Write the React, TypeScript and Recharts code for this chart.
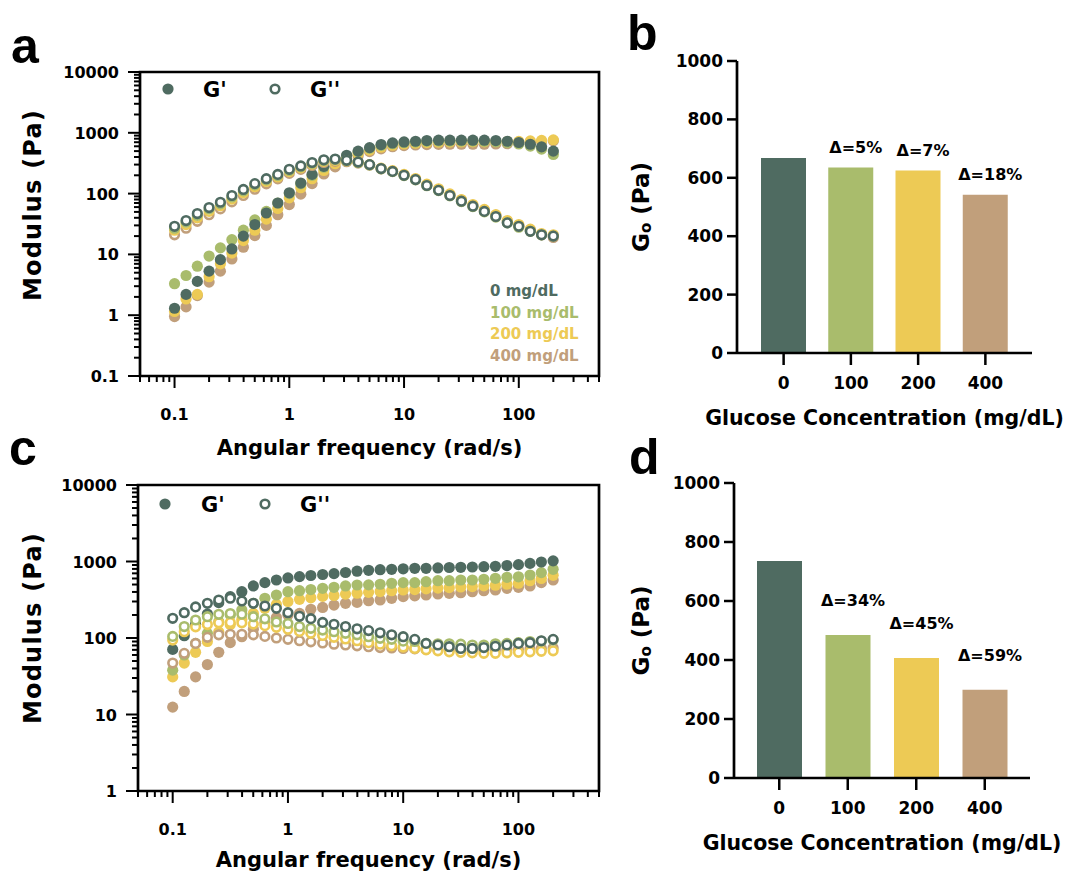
import React from 'react';
import {
  Bar,
  BarChart,
  Cell,
  LabelList,
  ReferenceArea,
  Scatter,
  ScatterChart,
  XAxis,
  YAxis,
} from 'recharts';

const FONT = '"DejaVu Sans", Verdana, sans-serif';
const LETTER_FONT = '"Liberation Sans", Arial, sans-serif';
const INK = '#000';

// angular frequency sweep (rad/s), shared by panels a and c
const FREQ = [
  0.1, 0.126, 0.158, 0.2, 0.251, 0.316, 0.398, 0.501, 0.631, 0.794,
  1, 1.26, 1.58, 2, 2.51, 3.16, 3.98, 5.01, 6.31, 7.94,
  10, 12.6, 15.8, 20, 25.1, 31.6, 39.8, 50.1, 63.1, 79.4,
  100, 126, 158, 200,
];

const CONC = ['0', '100', '200', '400'];
const CONC_LABELS = ['0 mg/dL', '100 mg/dL', '200 mg/dL', '400 mg/dL'];
const COLORS = ['#4f6b61', '#a9bc6c', '#edca55', '#c19f7b'];

// panel a: G' (storage) per glucose level
const A_STORAGE_0 = [1.3, 2.2, 3.6, 5.3, 8.2, 12.3, 20, 31, 48, 70, 103, 149, 207, 281, 363, 427, 500, 571, 641, 681, 707, 726, 746, 755, 755, 755, 755, 755, 746, 726, 692, 648, 587, 500];
const A_STORAGE_100 = [3.3, 4.5, 6.4, 9.4, 12.8, 17.5, 25, 37, 51, 70, 100, 145, 200, 272, 352, 415, 485, 555, 620, 660, 688, 705, 722, 730, 732, 732, 730, 725, 712, 690, 655, 605, 540, 440];
const A_STORAGE_200 = [1.15, 1.85, 2.2, 4.3, 7.0, 10.5, 16.9, 25, 38, 57, 85, 125, 176, 240, 310, 380, 450, 520, 580, 625, 655, 675, 690, 700, 705, 708, 710, 710, 712, 715, 720, 735, 750, 765];
const A_STORAGE_400 = [0.95, 1.37, 2.1, 3.5, 5.3, 8.4, 13.1, 20.4, 30, 45, 66, 98, 146, 210, 275, 345, 420, 490, 545, 590, 615, 630, 640, 645, 650, 650, 650, 650, 655, 660, 670, 690, 715, 740];

// panel a: G'' (loss)
const A_LOSS_0 = [29, 36, 47, 59, 72, 93, 117, 146, 176, 207, 251, 285, 325, 360, 370, 353, 330, 300, 258, 232, 200, 170, 136, 113, 93, 75, 62, 51, 42, 33, 29, 24, 21, 20];
const A_LOSS_100 = [27, 34, 44, 56, 68, 88, 111, 139, 168, 198, 240, 275, 315, 350, 362, 347, 325, 296, 256, 230, 198, 168, 135, 112, 92, 74, 61, 50, 41, 33, 28, 24, 21, 20];
const A_LOSS_200 = [25, 31, 40, 51, 63, 81, 103, 130, 158, 188, 230, 265, 305, 340, 352, 345, 325, 300, 262, 238, 207, 177, 143, 120, 99, 80, 66, 55, 45, 36, 31, 26, 22, 21];
const A_LOSS_400 = [21, 27, 35, 45, 56, 73, 93, 118, 145, 175, 215, 250, 290, 325, 340, 335, 318, 294, 256, 232, 202, 172, 139, 116, 96, 78, 64, 53, 44, 35, 30, 25, 21, 19];

// panel c: G'
const C_STORAGE_0 = [71, 107, 151, 206, 290, 347, 403, 479, 529, 573, 610, 635, 656, 676, 694, 718, 747, 767, 782, 790, 803, 815, 815, 823, 835, 840, 848, 856, 865, 885, 910, 945, 985, 1020];
const C_STORAGE_100 = [38, 60, 85, 115, 163, 200, 232, 284, 331, 365, 403, 415, 430, 446, 460, 479, 493, 495, 504, 519, 529, 530, 545, 561, 561, 573, 573, 585, 603, 621, 631, 666, 715, 790];
const C_STORAGE_200 = [31, 47, 65, 90, 120, 150, 175, 210, 245, 275, 300, 320, 335, 350, 360, 375, 385, 395, 405, 415, 425, 430, 440, 450, 455, 465, 470, 480, 490, 505, 520, 560, 600, 660];
const C_STORAGE_400 = [12.5, 20, 31, 45, 65, 87, 104, 130, 160, 185, 200, 210, 237, 251, 269, 284, 292, 307, 314, 330, 347, 355, 365, 376, 384, 391, 403, 415, 424, 446, 460, 479, 529, 573];

// panel c: G''
const C_LOSS_0 = [181, 214, 255, 284, 314, 331, 305, 284, 262, 244, 214, 192, 179, 160, 151, 141, 132, 125, 117, 110, 104, 96, 85, 81, 77, 73, 73, 75, 78, 81, 85, 87, 92, 96];
const C_LOSS_100 = [105, 141, 172, 190, 204, 209, 205, 190, 178, 162, 155, 141, 134, 127, 121, 115, 110, 104, 99, 96, 91, 90, 85, 84, 84, 83, 81, 81, 84, 85, 87, 90, 91, 94];
const C_LOSS_200 = [94, 121, 140, 150, 158, 160, 158, 152, 145, 138, 130, 122, 115, 108, 102, 97, 92, 87, 83, 79, 76, 73, 70, 68, 66, 65, 64, 63, 63, 64, 65, 66, 67, 68];
const C_LOSS_400 = [47, 63, 85, 102, 110, 112, 112, 110, 105, 100, 96, 92, 89, 86, 83, 81, 79, 77, 75, 74, 73, 72, 71, 70, 70, 70, 70, 70, 70, 70, 71, 72, 73, 74];

// panels b and d: plateau modulus G0 (Pa) and the drop vs 0 mg/dL
const B_G0 = [668, 635, 625, 542];
const B_DELTA = ['', 'Δ=5%', 'Δ=7%', 'Δ=18%'];
const D_G0 = [736, 485, 407, 299];
const D_DELTA = ['', 'Δ=34%', 'Δ=45%', 'Δ=59%'];

const BAR_TICKS = [0, 200, 400, 600, 800, 1000];

/** 1..9 × 10^e between lo and hi – majors get a label, the rest are minor ticks. */
function logTicks(lo: number, hi: number): number[] {
  const out: number[] = [];
  for (let e = -3; e <= 5; e++) {
    for (let m = 1; m <= 9; m++) {
      const v = +(m * 10 ** e).toPrecision(3);
      if (v >= lo * 0.999 && v <= hi * 1.001) out.push(v);
    }
  }
  return out;
}
const isDecade = (v: number) => Math.abs(Math.log10(v) - Math.round(Math.log10(v))) < 1e-6;
const fmtLog = (v: number) => (v >= 1 ? String(Math.round(v)) : String(v));

const X_DOMAIN: [number, number] = [0.05, 500];
const X_TICKS = logTicks(0.05, 500);

const textStyle = { fontFamily: FONT, fontWeight: 700, fill: INK } as const;

function LogTickX(props: any) {
  const { x, y, payload } = props;
  const major = isDecade(payload.value);
  return (
    <g>
      <line x1={x} x2={x} y1={y} y2={y + (major ? 12 : 6)} stroke={INK} strokeWidth={2} />
      {major && (
        <text x={x} y={y + 44} textAnchor="middle" fontSize={16} {...textStyle}>
          {fmtLog(payload.value)}
        </text>
      )}
    </g>
  );
}

function LogTickY(props: any) {
  const { x, y, payload } = props;
  const major = isDecade(payload.value);
  return (
    <g>
      <line x1={x} x2={x - (major ? 12 : 6)} y1={y} y2={y} stroke={INK} strokeWidth={2} />
      {major && (
        <text x={x - 21} y={y + 6} textAnchor="end" fontSize={16} {...textStyle}>
          {fmtLog(payload.value)}
        </text>
      )}
    </g>
  );
}

const filledDot = (color: string) => (p: any) => <circle cx={p.cx} cy={p.cy} r={5.6} fill={color} />;
const openDot = (color: string) => (p: any) => (
  <circle cx={p.cx} cy={p.cy} r={4.3} fill="#fff" stroke={color} strokeWidth={2.6} />
);

const toPoints = (vals: number[]) => FREQ.map((f, i) => ({ x: f, y: vals[i] }));
// darkest (0 mg/dL) ends up on top
const DRAW_ORDER = [3, 2, 1, 0];

interface RheoProps {
  width: number;
  height: number;
  margin: { top: number; right: number; bottom: number; left: number };
  yAxisWidth: number;
  yDomain: [number, number];
  storage: number[][];
  loss: number[][];
  titleLift: number;
  xTitleGap: number;
}

function RheologyChart(p: RheoProps) {
  const yTicks = logTicks(p.yDomain[0], p.yDomain[1]);
  return (
    <ScatterChart width={p.width} height={p.height} margin={p.margin}>
      <ReferenceArea
        x1={X_DOMAIN[0]}
        x2={X_DOMAIN[1]}
        y1={p.yDomain[0]}
        y2={p.yDomain[1]}
        fill="none"
        stroke={INK}
        strokeWidth={2.7}
        ifOverflow="visible"
      />
      <XAxis
        type="number"
        dataKey="x"
        scale="log"
        domain={X_DOMAIN}
        allowDataOverflow
        ticks={X_TICKS}
        interval={0}
        tick={<LogTickX />}
        tickLine={false}
        tickSize={0}
        tickMargin={0}
        axisLine={false}
        height={60}
        label={(lp: any) => {
          const vb = lp.viewBox;
          return (
            <text x={vb.x + vb.width / 2} y={vb.y + p.xTitleGap} textAnchor="middle" fontSize={21} {...textStyle}>
              Angular frequency (rad/s)
            </text>
          );
        }}
      />
      <YAxis
        type="number"
        dataKey="y"
        scale="log"
        domain={p.yDomain}
        allowDataOverflow
        ticks={yTicks}
        interval={0}
        tick={<LogTickY />}
        tickLine={false}
        tickSize={0}
        tickMargin={0}
        axisLine={false}
        width={p.yAxisWidth}
        label={(lp: any) => {
          const vb = lp.viewBox;
          const cx = 33;
          const cy = vb.y + vb.height / 2 - p.titleLift;
          return (
            <text
              x={cx}
              y={cy}
              transform={`rotate(-90, ${cx}, ${cy})`}
              textAnchor="middle"
              dominantBaseline="central"
              fontSize={24}
              letterSpacing={1.2}
              {...textStyle}
            >
              Modulus (Pa)
            </text>
          );
        }}
      />
      {DRAW_ORDER.map((i) => (
        <Scatter
          key={`gp${i}`}
          data={toPoints(p.storage[i])}
          shape={filledDot(COLORS[i])}
          isAnimationActive={false}
        />
      ))}
      {DRAW_ORDER.map((i) => (
        <Scatter
          key={`gpp${i}`}
          data={toPoints(p.loss[i])}
          shape={openDot(COLORS[i])}
          isAnimationActive={false}
        />
      ))}
    </ScatterChart>
  );
}

function BarTickY(props: any) {
  const { x, y, payload } = props;
  return (
    <g>
      <line x1={x} x2={x - 10} y1={y} y2={y} stroke={INK} strokeWidth={2.5} />
      <text x={x - 14} y={y + 6} textAnchor="end" fontSize={17} {...textStyle}>
        {payload.value}
      </text>
    </g>
  );
}

function BarTickX(props: any) {
  const { x, y, payload } = props;
  return (
    <g>
      <line x1={x} x2={x} y1={y} y2={y + 12} stroke={INK} strokeWidth={2.5} />
      <text x={x} y={y + 36} textAnchor="middle" fontSize={17} {...textStyle}>
        {payload.value}
      </text>
    </g>
  );
}

interface BarsProps {
  width: number;
  height: number;
  margin: { top: number; right: number; bottom: number; left: number };
  yAxisWidth: number;
  pad: number;
  values: number[];
  deltas: string[];
  labelLift: number;
}

function ModulusBars(p: BarsProps) {
  const data = CONC.map((c, i) => ({ conc: c, g0: p.values[i], delta: p.deltas[i] }));
  const frame = { stroke: INK, strokeWidth: 2.7 };
  return (
    <BarChart width={p.width} height={p.height} data={data} margin={p.margin} barCategoryGap={0}>
      <XAxis
        dataKey="conc"
        padding={{ left: p.pad, right: p.pad }}
        tick={<BarTickX />}
        tickLine={false}
        tickSize={0}
        tickMargin={0}
        axisLine={frame}
        height={60}
        interval={0}
        label={(lp: any) => {
          const vb = lp.viewBox;
          return (
            <text x={vb.x + vb.width / 2} y={vb.y + 72} textAnchor="middle" fontSize={20.5} {...textStyle}>
              Glucose Concentration (mg/dL)
            </text>
          );
        }}
      />
      <XAxis xAxisId="frame" dataKey="conc" orientation="top" height={0} tick={false} tickLine={false} axisLine={frame} />
      <YAxis
        domain={[0, 1000]}
        ticks={BAR_TICKS}
        interval={0}
        tick={<BarTickY />}
        tickLine={false}
        tickSize={0}
        tickMargin={0}
        axisLine={frame}
        width={p.yAxisWidth}
        label={(lp: any) => {
          const vb = lp.viewBox;
          const cx = vb.x + 41;
          const cy = vb.y + vb.height / 2;
          return (
            <text
              x={cx}
              y={cy}
              transform={`rotate(-90, ${cx}, ${cy})`}
              textAnchor="middle"
              dominantBaseline="central"
              fontSize={23}
              {...textStyle}
            >
              G
              <tspan fontSize={15} dy={5}>o</tspan>
              <tspan dy={-5}> (Pa)</tspan>
            </text>
          );
        }}
      />
      <YAxis yAxisId="frame" orientation="right" domain={[0, 1000]} width={0} tick={false} tickLine={false} axisLine={frame} />
      <Bar dataKey="g0" barSize={45} isAnimationActive={false}>
        {data.map((d, i) => (
          <Cell key={d.conc} fill={COLORS[i]} />
        ))}
        <LabelList
          dataKey="delta"
          content={(lp: any) => (
            <text
              x={lp.x + lp.width / 2 + 5}
              y={lp.y - p.labelLift}
              textAnchor="middle"
              fontSize={16}
              {...textStyle}
            >
              {lp.value}
            </text>
          )}
        />
      </Bar>
    </BarChart>
  );
}

function Overlay() {
  const letter = { fontFamily: LETTER_FONT, fontWeight: 700, fontSize: 50, fill: INK } as const;
  const legendText = { ...textStyle, fontSize: 21 };
  return (
    <svg
      width={1070}
      height={873}
      style={{ position: 'absolute', left: 0, top: 0, pointerEvents: 'none' }}
    >
      <text x={11} y={63} {...letter}>a</text>
      <text x={627} y={50} {...letter}>b</text>
      <text x={9} y={465} {...letter}>c</text>
      <text x={629} y={474} {...letter}>d</text>

      {/* G' / G'' key, panel a */}
      <circle cx={168} cy={89} r={5.6} fill={COLORS[0]} />
      <text x={203} y={97} {...legendText}>G'</text>
      <circle cx={275} cy={89} r={4.3} fill="#fff" stroke={COLORS[0]} strokeWidth={2.6} />
      <text x={310} y={97} {...legendText}>G''</text>

      {/* glucose key, panel a */}
      {CONC_LABELS.map((t, i) => (
        <text key={t} x={490} y={[296, 318, 339, 361][i]} {...textStyle} fontSize={15} fill={COLORS[i]}>
          {t}
        </text>
      ))}

      {/* G' / G'' key, panel c */}
      <circle cx={165} cy={504} r={5.6} fill={COLORS[0]} />
      <text x={201} y={512} {...legendText}>G'</text>
      <circle cx={265} cy={504} r={4.3} fill="#fff" stroke={COLORS[0]} strokeWidth={2.6} />
      <text x={300} y={512} {...legendText}>G''</text>
    </svg>
  );
}

export default function App() {
  return (
    <div style={{ position: 'absolute', left: 0, top: 0, width: 1070, height: 873, background: '#fff' }}>
      <div style={{ position: 'absolute', left: 0, top: 0 }}>
        <RheologyChart
          width={610}
          height={470}
          margin={{ top: 72, right: 11, bottom: 34, left: 0 }}
          yAxisWidth={140}
          yDomain={[0.1, 10000]}
          storage={[A_STORAGE_0, A_STORAGE_100, A_STORAGE_200, A_STORAGE_400]}
          loss={[A_LOSS_0, A_LOSS_100, A_LOSS_200, A_LOSS_400]}
          titleLift={19}
          xTitleGap={79}
        />
      </div>
      <div style={{ position: 'absolute', left: 0, top: 430 }}>
        <RheologyChart
          width={610}
          height={443}
          margin={{ top: 55, right: 11, bottom: 22, left: 0 }}
          yAxisWidth={138}
          yDomain={[1, 10000]}
          storage={[C_STORAGE_0, C_STORAGE_100, C_STORAGE_200, C_STORAGE_400]}
          loss={[C_LOSS_0, C_LOSS_100, C_LOSS_200, C_LOSS_400]}
          titleLift={10}
          xTitleGap={76}
        />
      </div>
      <div style={{ position: 'absolute', left: 600, top: 0 }}>
        <ModulusBars
          width={470}
          height={440}
          margin={{ top: 61, right: 38, bottom: 27, left: 0 }}
          yAxisWidth={137}
          pad={13}
          values={B_G0}
          deltas={B_DELTA}
          labelLift={15}
        />
      </div>
      <div style={{ position: 'absolute', left: 600, top: 440 }}>
        <ModulusBars
          width={470}
          height={433}
          margin={{ top: 43, right: 40, bottom: 35, left: 0 }}
          yAxisWidth={134}
          pad={11}
          values={D_G0}
          deltas={D_DELTA}
          labelLift={29}
        />
      </div>
      <Overlay />
    </div>
  );
}
